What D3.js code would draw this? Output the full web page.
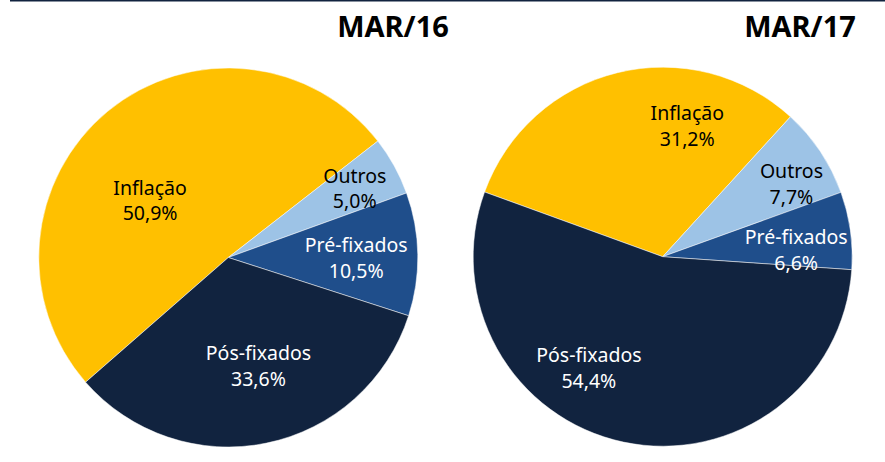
<!DOCTYPE html>
<html>
<head>
<meta charset="utf-8">
<script src="https://cdn.jsdelivr.net/npm/d3@7"></script>
<style>
  html, body { margin: 0; padding: 0; background: #fff; }
  svg { display: block; }
</style>
</head>
<body>
<svg id="chart" width="885" height="462"></svg>
<script>
// data
const categories = ['Inflação', 'Outros', 'Pré-fixados', 'Pós-fixados'];
const periods = ['MAR/16', 'MAR/17'];
const valuesMar16 = [50.9, 5.0, 10.5, 33.6];
const valuesMar17 = [31.2, 7.7, 6.6, 54.4];

// configs
const WIDTH = 885;
const HEIGHT = 462;
const RADIUS = 189.5;
const COLORS = ['#FFC000', '#9DC3E6', '#1F4E8B', '#11233F'];
const LABEL_COLORS = ['#000000', '#000000', '#ffffff', '#ffffff'];
const FONT = '"Noto Sans", "Open Sans", sans-serif';

// layout of each pie: centre, angle (deg, clockwise from north) where the
// first slice ends, and label placement as [radius fraction, angle nudge deg]
const pies = [
	{
		title: periods[0], values: valuesMar16,
		cx: 228.3, cy: 257.5, firstEnd: 52.1,
		titleX: 393, titleY: 37,
		labels: [[0.51, -14.5], [0.76, 0.3], [0.675, 1.4], [0.595, -3.9]]
	},
	{
		title: periods[1], values: valuesMar17,
		cx: 662.7, cy: 256.7, firstEnd: 42.4,
		titleX: 800, titleY: 37,
		labels: [[0.70, 24.5], [0.78, 4.3], [0.705, 5.3], [0.705, 21.6]]
	}
];

const fmt = v => d3.format('.1f')(v).replace('.', ',') + '%';
const rad = deg => deg * Math.PI / 180;

const svg = d3.select('#chart');

// thin rule at the top
svg.append('rect')
	.attr('x', 10)
	.attr('y', 0)
	.attr('width', WIDTH - 10)
	.attr('height', 1.5)
	.attr('fill', '#11233F');

const arc = d3.arc().innerRadius(0).outerRadius(RADIUS);

for (const p of pies) {
	const total = d3.sum(p.values);
	const start = rad(p.firstEnd) - (p.values[0] / total) * 2 * Math.PI;

	const pie = d3.pie()
		.sort(null)
		.value(d => d)
		.startAngle(start)
		.endAngle(start + 2 * Math.PI);

	const arcs = pie(p.values);

	const g = svg.append('g')
		.attr('transform', `translate(${p.cx}, ${p.cy})`);

	// slices
	g.selectAll('path.slice')
		.data(arcs)
		.join('path')
		.attr('class', 'slice')
		.attr('d', arc)
		.attr('fill', (d, i) => COLORS[i])
		.attr('stroke', '#ffffff')
		.attr('stroke-width', 0.5);

	// labels: category name + value, two lines
	const labels = g.selectAll('text.label')
		.data(arcs)
		.join('text')
		.attr('class', 'label')
		.attr('text-anchor', 'middle')
		.attr('font-family', FONT)
		.attr('font-size', '19.5px')
		.attr('fill', (d, i) => LABEL_COLORS[i])
		.attr('transform', (d, i) => {
			const [fr, nudge] = p.labels[i];
			const a = (d.startAngle + d.endAngle) / 2 + rad(nudge);
			const r = fr * RADIUS;
			return `translate(${r * Math.sin(a)}, ${-r * Math.cos(a)})`;
		});

	labels.append('tspan')
		.attr('x', 0)
		.attr('y', -6)
		.text((d, i) => categories[i]);

	labels.append('tspan')
		.attr('x', 0)
		.attr('y', 19.5)
		.text(d => fmt(d.data));

	// title
	svg.append('text')
		.attr('x', p.titleX)
		.attr('y', p.titleY)
		.attr('text-anchor', 'middle')
		.attr('font-family', FONT)
		.attr('font-weight', 'bold')
		.attr('font-size', '29px')
		.attr('fill', '#000')
		.text(p.title);
}
</script>
</body>
</html>
